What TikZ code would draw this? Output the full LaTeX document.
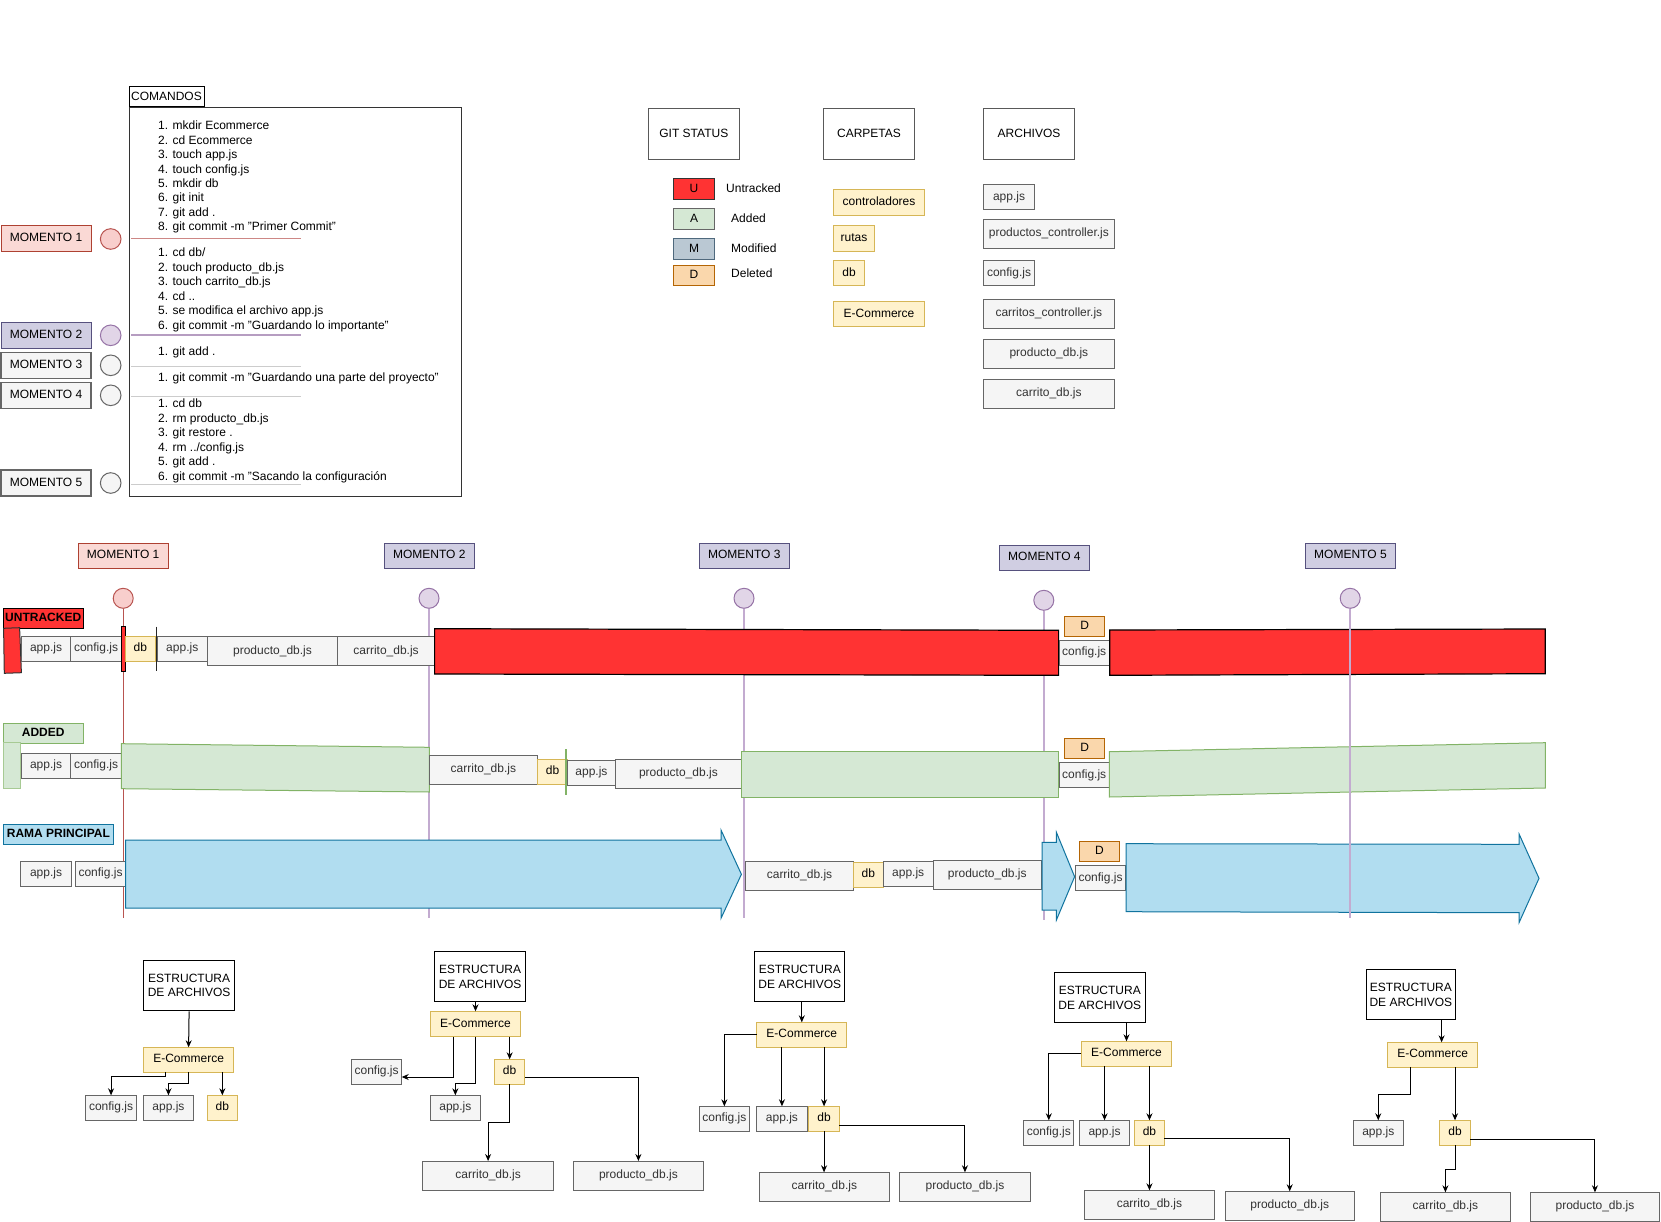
\documentclass[tikz,border=0pt]{standalone}
\usepackage{fontspec}
\setmainfont{Liberation Sans}
\usetikzlibrary{arrows.meta}

\definecolor{filefill}{HTML}{F5F5F5}
\definecolor{filedraw}{HTML}{666666}
\definecolor{filetext}{HTML}{333333}
\definecolor{yelfill}{HTML}{FFF2CC}
\definecolor{yeldraw}{HTML}{D6B656}
\definecolor{dfill}{HTML}{FAD7AC}
\definecolor{ddraw}{HTML}{B46504}
\definecolor{pinkfill}{HTML}{FAD9D5}
\definecolor{pinkdraw}{HTML}{AE4132}
\definecolor{pinkcirc}{HTML}{F8CECC}
\definecolor{pinkline}{HTML}{B85450}
\definecolor{purpfill}{HTML}{D0CEE2}
\definecolor{purpdraw}{HTML}{56517E}
\definecolor{lilacfill}{HTML}{E1D5E7}
\definecolor{lilacdraw}{HTML}{9673A6}
\definecolor{lilacline}{HTML}{C3ABD0}
\definecolor{redfill}{HTML}{FF3333}
\definecolor{greenfill}{HTML}{D5E8D4}
\definecolor{greendraw}{HTML}{82B366}
\definecolor{bluefill}{HTML}{B1DDF0}
\definecolor{bluedraw}{HTML}{10739E}
\definecolor{slatefill}{HTML}{BAC8D3}
\definecolor{slatedraw}{HTML}{23445D}
\definecolor{sepgray}{HTML}{CCCCCC}

% box from its top-left and bottom-right corners (picture coordinates, y downwards)
\newcommand{\mkbox}[7]{\node[#1,anchor=north west,minimum width={(#5)-(#3)},minimum height={(#6)-(#4)}] (#2) at (#3,#4) {#7};}

\begin{document}
\begin{tikzpicture}[x=1pt,y=-1pt,
  txt/.style={font=\fontsize{12}{14.4}\selectfont, inner sep=0pt, text=black},
  bx/.style={txt, draw, line width=1pt, outer sep=0pt, text height=8.7pt, text depth=2.6pt},
  file/.style={bx, fill=filefill, draw=filedraw, text=filetext},
  fold/.style={bx, fill=yelfill, draw=yeldraw},
  del/.style={bx, fill=dfill, draw=ddraw},
  mpink/.style={bx, fill=pinkfill, draw=pinkdraw},
  mpurp/.style={bx, fill=purpfill, draw=purpdraw},
  mgray/.style={bx, fill=filefill, draw=filedraw, line width=1.5pt},
  plain/.style={bx, fill=white, draw=black!65},
  tree/.style={txt, draw=black, fill=white, line width=1pt, align=center},
  cmd/.style={txt, anchor=base west},
  lane/.style={bx, font=\fontsize{12}{14.4}\selectfont\bfseries},
  dot/.style={circle, inner sep=0pt, line width=1pt},
  arr/.style={-{Stealth[length=7pt,width=6pt]}, line width=1pt, black}]

\useasboundingbox (0,0) rectangle (1661,1222);

% ---------------- command list ----------------
\mkbox{bx, fill=white, draw=black}{cmdtab}{129}{87}{204}{107}{COMANDOS}
\node[draw=black!80, line width=1.2pt, anchor=north west, minimum width=332, minimum height=389, inner sep=0pt] (cmdbox) at (129,107) {};

\foreach \t [count=\i] in {1. mkdir Ecommerce, 2. cd Ecommerce, 3. touch app.js, 4. touch config.js, 5. mkdir db, 6. git init, 7. git add ., {8. git commit -m "Primer Commit"}}
  \node[cmd] (ca\i) at (158,{130+14.37*(\i-1)}) {\t};
\foreach \t [count=\i] in {1. cd db/, 2. touch producto\_db.js, 3. touch carrito\_db.js, 4. cd .., 5. se modifica el archivo app.js, {6. git commit -m "Guardando lo importante"}}
  \node[cmd] (cb\i) at (158,{257+14.45*(\i-1)}) {\t};
\node[cmd] (cc1) at (158,355) {1. git add .};
\node[cmd] (cd1) at (158,381.6) {1. git commit -m "Guardando una parte del proyecto"};
\foreach \t [count=\i] in {1. cd db, 2. rm producto\_db.js, 3. git restore ., 4. rm ../config.js, 5. git add ., {6. git commit -m "Sacando la configuración}}
  \node[cmd] (ce\i) at (158,{407.6+14.5*(\i-1)}) {\t};

\draw[pinkline!70, line width=1.3pt] (131,238.7) -- (301,238.7);
\draw[lilacdraw!70, line width=1.3pt] (131,335) -- (301,335);
\draw[sepgray, line width=1pt] (131,366) -- (301,366);
\draw[sepgray, line width=1pt] (131,396) -- (301,396);
\draw[sepgray, line width=1pt] (131,484.3) -- (301,484.3);

% moments beside the list
\mkbox{mpink}{lm1}{1}{226}{91}{251.7}{MOMENTO 1}
\mkbox{mpurp}{lm2}{1}{322.3}{91}{348.3}{MOMENTO 2}
\mkbox{mgray}{lm3}{1}{352.3}{91}{378.3}{MOMENTO 3}
\mkbox{mgray}{lm4}{1}{382.3}{91}{408.3}{MOMENTO 4}
\mkbox{mgray}{lm5}{1}{470}{91}{496}{MOMENTO 5}
\node[dot, fill=pinkcirc, draw=pinkline, minimum size=20.6] (lc1) at (110.7,239) {};
\node[dot, fill=lilacfill, draw=lilacdraw, minimum size=20.6] (lc2) at (110.7,335.3) {};
\node[dot, fill=filefill, draw=filedraw, minimum size=20.6] (lc3) at (110.7,365.3) {};
\node[dot, fill=filefill, draw=filedraw, minimum size=20.6] (lc4) at (110.7,395.3) {};
\node[dot, fill=filefill, draw=filedraw, minimum size=20.6] (lc5) at (110.7,483) {};

% ---------------- legends ----------------
\mkbox{plain}{hstat}{648.3}{109}{739.3}{159.3}{GIT STATUS}
\mkbox{plain}{hcarp}{823.7}{109}{914.3}{159.3}{CARPETAS}
\mkbox{plain}{harch}{983.7}{109}{1074.3}{159.3}{ARCHIVOS}

\mkbox{bx, fill=redfill, draw=black!80}{sU}{673.7}{178.7}{714.3}{199.3}{U}
\mkbox{bx, fill=greenfill, draw=filedraw}{sA}{673.7}{208.7}{714.3}{229.3}{A}
\mkbox{bx, fill=slatefill, draw=slatedraw!80}{sM}{673.7}{238.7}{714.3}{259.3}{M}
\mkbox{del}{sD}{673.7}{265.7}{714.3}{286}{D}
\node[txt, anchor=west] (lU) at (726,188.7) {Untracked};
\node[txt, anchor=west] (lA) at (731,218.7) {Added};
\node[txt, anchor=west] (lM) at (731,248.7) {Modified};
\node[txt, anchor=west] (lD) at (731,273.7) {Deleted};

\mkbox{fold}{fctrl}{833.7}{189.7}{924.3}{215.3}{controladores}
\mkbox{fold}{frut}{833.7}{225.7}{874.3}{251.3}{rutas}
\mkbox{fold}{fdb}{833.7}{260.7}{864.3}{286}{db}
\mkbox{fold}{fecom}{833.7}{301.3}{924.3}{326.7}{E-Commerce}

\mkbox{file}{gapp}{983.7}{184.7}{1034.3}{209.3}{app.js}
\mkbox{file}{gpctl}{983.7}{219.3}{1114}{248.3}{productos\_controller.js}
\mkbox{file}{gcfg}{983.7}{260.7}{1034.3}{286}{config.js}
\mkbox{file}{gcctl}{983.7}{299.3}{1114}{328.3}{carritos\_controller.js}
\mkbox{file}{gpdb}{983.7}{339.3}{1114}{368.3}{producto\_db.js}
\mkbox{file}{gcdb}{983.7}{379.3}{1114}{408.3}{carrito\_db.js}

% ---------------- timeline ----------------
\mkbox{mpink}{tm1}{78.2}{543.3}{168.2}{568.3}{MOMENTO 1}
\mkbox{mpurp}{tm2}{384.3}{543.3}{474.3}{568.3}{MOMENTO 2}
\mkbox{mpurp}{tm3}{699.3}{543.3}{789.3}{568.3}{MOMENTO 3}
\mkbox{mpurp}{tm4}{999.3}{545.3}{1089.5}{570.3}{MOMENTO 4}
\mkbox{mpurp}{tm5}{1305.3}{543.3}{1395.6}{568.3}{MOMENTO 5}

\node[dot, fill=pinkcirc, draw=pinkline, minimum size=20] (tc1) at (123.2,598.3) {};
\node[dot, fill=lilacfill, draw=lilacdraw, minimum size=20] (tc2) at (429,598.3) {};
\node[dot, fill=lilacfill, draw=lilacdraw, minimum size=20] (tc3) at (744,598.3) {};
\node[dot, fill=lilacfill, draw=lilacdraw, minimum size=20] (tc4) at (1043.8,600.3) {};
\node[dot, fill=lilacfill, draw=lilacdraw, minimum size=20] (tc5) at (1350.2,598.3) {};
\coordinate (te1) at (123.2,918);
\coordinate (te2) at (429,918);
\coordinate (te3) at (744,918);
\coordinate (te4) at (1043.8,920);
\coordinate (te5) at (1350.2,918);
\draw[pinkline, line width=1.3pt] (tc1.south) -- (te1);
\draw[lilacline, line width=2pt] (tc2.south) -- (te2);
\draw[lilacline, line width=2pt] (tc3.south) -- (te3);
\draw[lilacline, line width=2pt] (tc4.south) -- (te4);

% lane labels
\mkbox{lane, fill=redfill, draw=black}{lu}{3.2}{608.7}{83.2}{628.3}{UNTRACKED}
\mkbox{lane, fill=greenfill, draw=greendraw}{la}{3.2}{723.3}{83.2}{743.3}{ADDED}
\mkbox{lane, fill=bluefill, draw=bluedraw}{lr}{3.2}{824.3}{113.6}{844.3}{RAMA PRINCIPAL}

% untracked lane
\filldraw[fill=redfill, draw=black!80, line width=1pt] (3.6,628.3) -- (19.6,627.7) -- (21.4,672.7) -- (4.3,673.3) -- cycle;
\mkbox{file}{u1}{21.4}{636.7}{70.7}{661}{app.js}
\mkbox{file}{u2}{70.7}{636.7}{121.4}{661}{config.js}
\filldraw[fill=redfill, draw=black, line width=1pt] (121.4,626.7) rectangle (125,671.3);
\mkbox{fold}{u3}{125}{636.7}{155.7}{661}{db}
\draw[black!85, line width=1.6pt] (156.3,626.7) -- (156.3,671.3);
\mkbox{file}{u4}{157}{636.7}{207.5}{661}{app.js}
\mkbox{file}{u5}{207.5}{636.7}{337.5}{665.3}{producto\_db.js}
\mkbox{file}{u6}{337.5}{636.7}{434.6}{665.3}{carrito\_db.js}
\filldraw[fill=redfill, draw=black, line width=1.2pt] (434.6,628.7) -- (1058.6,630.3) -- (1058.6,675.3) -- (434.6,674) -- cycle;
\mkbox{del}{u7}{1064.6}{616.3}{1104.6}{636.3}{D}
\mkbox{file}{u8}{1059}{640.3}{1109.3}{665.3}{config.js}
\filldraw[fill=redfill, draw=black, line width=1.2pt] (1109.7,630) -- (1545.3,629) -- (1545.3,673.7) -- (1109.7,675.3) -- cycle;

% added lane
\filldraw[fill=greenfill, draw=greendraw!70, line width=1pt] (3.6,742.7) rectangle (20.4,788);
\mkbox{file}{a1}{21.4}{753.3}{70.7}{778.3}{app.js}
\mkbox{file}{a2}{70.7}{753.3}{121.4}{778.3}{config.js}
\filldraw[fill=greenfill, draw=greendraw, line width=1pt] (121.4,743.7) -- (429.3,747.3) -- (429.3,792) -- (121.4,788.7) -- cycle;
\mkbox{file}{a3}{429.3}{755.3}{537.5}{784.3}{carrito\_db.js}
\mkbox{fold}{a4}{537.5}{759.3}{567.5}{784.3}{db}
\draw[greendraw, line width=1.5pt] (566,749.3) -- (566,795);
\mkbox{file}{a5}{567.5}{760}{615.4}{785.7}{app.js}
\mkbox{file}{a6}{615.4}{759.3}{741.4}{788.3}{producto\_db.js}
\filldraw[fill=greenfill, draw=greendraw, line width=1pt] (741.4,751.3) rectangle (1058.9,797);
\mkbox{del}{a7}{1064.6}{738.3}{1104.6}{758.3}{D}
\mkbox{file}{a8}{1059}{762.7}{1109.3}{787.3}{config.js}
\filldraw[fill=greenfill, draw=greendraw, line width=1pt] (1109.3,751.7) -- (1545.3,742.7) -- (1545.3,788) -- (1109.3,797) -- cycle;

% main branch lane
\mkbox{file}{r1}{20.7}{861.3}{71.4}{886.3}{app.js}
\mkbox{file}{r2}{75.4}{861.3}{125.7}{886.3}{config.js}
\filldraw[fill=bluefill, draw=bluedraw, line width=1pt] (125.7,840) -- (721,840) -- (721,830) -- (741.4,874.3) -- (721,918.3) -- (721,908) -- (125.7,908) -- cycle;
\mkbox{file}{r3}{745.4}{861.3}{853.6}{890}{carrito\_db.js}
\mkbox{fold}{r4}{853.6}{862.3}{883.2}{887.3}{db}
\mkbox{file}{r5}{883.2}{861}{933.2}{886}{app.js}
\mkbox{file}{r6}{933.2}{860.3}{1041.4}{889.3}{producto\_db.js}
\filldraw[fill=bluefill, draw=bluedraw, line width=1pt] (1042.1,842.3) -- (1056.4,842.3) -- (1056.4,832.3) -- (1074.6,876.7) -- (1056.4,920) -- (1056.4,910) -- (1042.1,910) -- cycle;
\mkbox{del}{r7}{1079.2}{841.7}{1119.6}{861.3}{D}
\mkbox{file}{r8}{1075.6}{865.7}{1125.5}{890.3}{config.js}
\filldraw[fill=bluefill, draw=bluedraw, line width=1pt] (1126,843.7) -- (1519.2,844.3) -- (1519.2,834.3) -- (1539,878.3) -- (1519.2,922.3) -- (1519.2,912.7) -- (1126,911.7) -- cycle;

\draw[lilacline, line width=2pt] (tc5.south) -- (te5);

% ---------------- file trees ----------------
% moment 1
\node[tree, anchor=north west, minimum width=90.4, minimum height=50.3] (s1) at (143.4,960) {ESTRUCTURA\\DE ARCHIVOS};
\mkbox{fold}{e1}{143.4}{1047.3}{233.8}{1072.3}{E-Commerce}
\mkbox{file}{c1}{85.8}{1095.3}{136.3}{1120.3}{config.js}
\mkbox{file}{p1}{143.4}{1095.3}{193.5}{1120.3}{app.js}
\mkbox{fold}{d1}{207.2}{1095.3}{237.5}{1120.3}{db}
\draw[arr] (s1.south) -- (e1.north);
\draw[arr] ([xshift=-22.8pt]e1.south) -- ++(0,4.4) -| (c1.north);
\draw[arr] (e1.south) -- ++(0,11) -| (p1.north);
\draw[arr] (e1.south -| d1.north) -- (d1.north);

% moment 2
\node[tree, anchor=north west, minimum width=90.4, minimum height=50] (s2) at (434.4,951.3) {ESTRUCTURA\\DE ARCHIVOS};
\mkbox{fold}{e2}{430.3}{1011.3}{520.7}{1036.7}{E-Commerce}
\mkbox{file}{c2}{351.5}{1059.3}{401.7}{1084.3}{config.js}
\mkbox{file}{p2}{430.3}{1095.3}{480.4}{1120.3}{app.js}
\mkbox{fold}{d2}{494.5}{1059.3}{524.8}{1084.3}{db}
\mkbox{file}{k2}{422.8}{1161}{553.4}{1190}{carrito\_db.js}
\mkbox{file}{q2}{573.3}{1161}{703.5}{1190}{producto\_db.js}
\draw[arr] (s2.south -| e2.north) -- (e2.north);
\draw[arr] ([xshift=-22.5pt]e2.south) |- ([yshift=-5.2pt]c2.east);
\draw[arr] (e2.south) -- ++(0,46.6) -| (p2.north);
\draw[arr] (e2.south -| d2.north) -- (d2.north);
\draw[arr] (d2.south) -- ++(0,38.4) -| (k2.north);
\draw[arr] ([yshift=-5.9pt]d2.east) -| (q2.north);

% moment 3
\node[tree, anchor=north west, minimum width=89.8, minimum height=50] (s3) at (754.4,951.3) {ESTRUCTURA\\DE ARCHIVOS};
\mkbox{fold}{e3}{756.9}{1022.3}{846.7}{1047.3}{E-Commerce}
\mkbox{file}{c3}{699.3}{1106.3}{749.4}{1131.3}{config.js}
\mkbox{file}{p3}{756.9}{1106.3}{807}{1131.3}{app.js}
\mkbox{fold}{d3}{808.9}{1106.3}{839.2}{1131.3}{db}
\mkbox{file}{k3}{759.3}{1172.3}{889.4}{1201.3}{carrito\_db.js}
\mkbox{file}{q3}{899.9}{1172.3}{1030}{1201.3}{producto\_db.js}
\draw[arr] (s3.south -| e3.north) -- (e3.north);
\draw[arr] (e3.west) -| (c3.north);
\draw[arr] (e3.south -| p3.north) -- (p3.north);
\draw[arr] (e3.south -| d3.north) -- (d3.north);
\draw[arr] (d3.south) -- (d3.south |- k3.north);
\draw[arr] ([yshift=-6.5pt]d3.east) -| (q3.north);

% moment 4
\node[tree, anchor=north west, minimum width=90.4, minimum height=50] (s4) at (1054.1,972.3) {ESTRUCTURA\\DE ARCHIVOS};
\mkbox{fold}{e4}{1081.3}{1041.3}{1171.7}{1066.3}{E-Commerce}
\mkbox{file}{c4}{1023.7}{1120.3}{1073.9}{1145.3}{config.js}
\mkbox{file}{p4}{1079.5}{1120.3}{1129.6}{1145.3}{app.js}
\mkbox{fold}{d4}{1134.6}{1120.3}{1164.3}{1145.3}{db}
\mkbox{file}{k4}{1084.4}{1190.3}{1214.5}{1219.3}{carrito\_db.js}
\mkbox{file}{q4}{1225}{1191.3}{1354.4}{1220.3}{producto\_db.js}
\draw[arr] (s4.south -| e4.north) -- (e4.north);
\draw[arr] (e4.west) -| (c4.north);
\draw[arr] (e4.south -| p4.north) -- (p4.north);
\draw[arr] (e4.south -| d4.north) -- (d4.north);
\draw[arr] (d4.south) -- (d4.south |- k4.north);
\draw[arr] ([yshift=-5.2pt]d4.east) -| (q4.north);

% moment 5
\node[tree, anchor=north west, minimum width=89.8, minimum height=50] (s5) at (1365.5,969.3) {ESTRUCTURA\\DE ARCHIVOS};
\mkbox{fold}{e5}{1387.8}{1042.3}{1477.6}{1067.3}{E-Commerce}
\mkbox{file}{p5}{1353.2}{1120.3}{1403.3}{1145.3}{app.js}
\mkbox{fold}{d5}{1439.8}{1120.3}{1470.2}{1145.3}{db}
\mkbox{file}{k5}{1380.4}{1192.3}{1510.4}{1221.3}{carrito\_db.js}
\mkbox{file}{q5}{1530.3}{1192.3}{1659.6}{1221.3}{producto\_db.js}
\draw[arr] ([xshift=30.7pt]s5.south) -- ([xshift=30.7pt]s5.south |- e5.north);
\draw[arr] ([xshift=-22.6pt]e5.south) -- ++(0,26.7) -| (p5.north);
\draw[arr] (e5.south -| d5.north) -- (d5.north);
\draw[arr] (d5.south) -- ++(0,23.7) -| (k5.north);
\draw[arr] ([yshift=-6.5pt]d5.east) -| (q5.north);

\end{tikzpicture}
\end{document}
